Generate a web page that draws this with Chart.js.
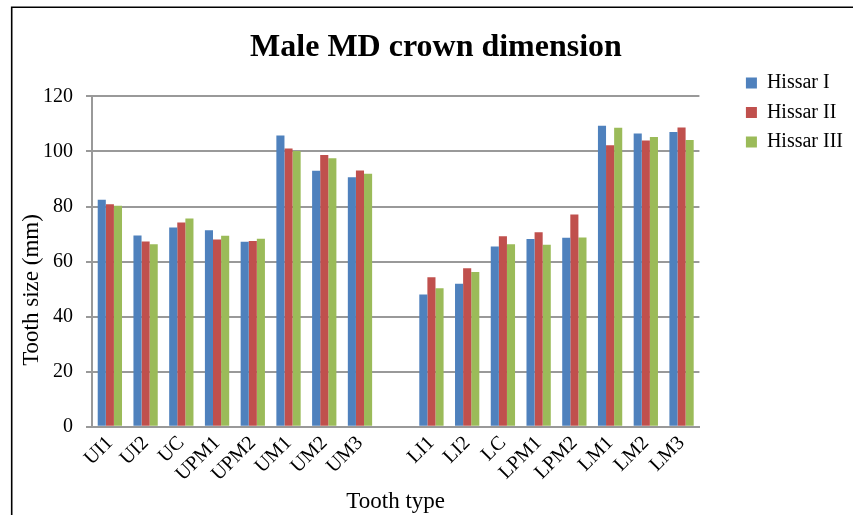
<!DOCTYPE html>
<html>
<head><meta charset="utf-8"><title>Male MD crown dimension</title>
    <script src="https://cdn.jsdelivr.net/npm/chart.js"></script>
    <style> html,body{margin:0;padding:0;background:#fff;} #wrap{width:853px;height:515px;} </style>
</head>
<body>
<div id="wrap"><canvas id="barChart" width="853" height="515"></canvas></div>
<script>
    // categories (blank one = gap between upper and lower teeth)
    const teeth = ['UI1','UI2','UC','UPM1','UPM2','UM1','UM2','UM3','','LI1','LI2','LC','LPM1','LPM2','LM1','LM2','LM3'];
    const hissarI   = [82.5, 69.5, 72.4, 71.4, 67.2, 105.8, 93.0, 90.6, null, 48.1, 52.0, 65.5, 68.2, 68.7, 109.3, 106.5, 107.1];
    const hissarII  = [80.8, 67.3, 74.2, 68.0, 67.5, 101.1, 98.7, 93.1, null, 54.3, 57.6, 69.2, 70.7, 77.1, 102.3, 104.0, 108.7];
    const hissarIII = [80.3, 66.3, 75.7, 69.4, 68.3, 100.2, 97.5, 91.9, null, 50.3, 56.2, 66.3, 66.1, 68.8, 108.6, 105.3, 104.2];
    const yTicks = [0, 20, 40, 60, 80, 100, 120];
    const chartTitle = 'Male MD crown dimension';
    const xTitle = 'Tooth type';
    const yTitle = 'Tooth size (mm)';

    const serif = '"Liberation Serif", "Times New Roman", serif';
    const gridGray = '#999999';

    // frame, background and the (offset) y axis title
    const extras = {
      id: 'extras',
      beforeDraw(chart) {
        const c = chart.ctx;
        c.save();
        c.fillStyle = '#fff';
        c.fillRect(0, 0, chart.width, chart.height);
        c.restore();
      },
      afterDraw(chart) {
        const c = chart.ctx;
        c.save();
        c.strokeStyle = '#000';
        c.lineWidth = 1.6;
        c.beginPath();
        c.moveTo(11.7, chart.height);
        c.lineTo(11.7, 7.2);
        c.lineTo(chart.width, 7.2);
        c.stroke();
        c.translate(32, 290);
        c.rotate(-Math.PI / 2);
        c.fillStyle = '#000';
        c.font = '23px ' + serif;
        c.textAlign = 'center';
        c.textBaseline = 'middle';
        c.fillText(yTitle, 0, 0);
        c.restore();
      }
    };

    new Chart(document.getElementById('barChart'), {
      type: 'bar',
      data: {
        labels: teeth,
        datasets: [
          { label: 'Hissar I',   data: hissarI,   backgroundColor: '#4F81BD' },
          { label: 'Hissar II',  data: hissarII,  backgroundColor: '#C0504D' },
          { label: 'Hissar III', data: hissarIII, backgroundColor: '#9BBB59' }
        ]
      },
      options: {
        responsive: false,
        animation: false,
        layout: { padding: { left: 19, right: 0, top: 0, bottom: 0 } },
        datasets: { bar: { categoryPercentage: 0.68, barPercentage: 1.0 } },
        plugins: {
          title: {
            display: true, text: chartTitle, color: '#000',
            font: { family: serif, size: 32, weight: 'bold' },
            padding: { top: 29, bottom: 29 }
          },
          legend: {
            position: 'right', align: 'start',
            title: { display: true, text: '', font: { size: 10, lineHeight: 1 }, padding: { top: 0, bottom: 53.5 } },
            labels: { boxWidth: 11, boxHeight: 11, padding: 9.5, color: '#000', font: { family: serif, size: 20 } }
          },
          tooltip: { enabled: false }
        },
        scales: {
          x: {
            grid: { display: false },
            border: { display: true, color: gridGray, width: 2 },
            ticks: { color: '#000', font: { family: serif, size: 20, lineHeight: 1 }, minRotation: 45, maxRotation: 45, autoSkip: false, padding: -2 },
            title: { display: true, text: xTitle, color: '#000', font: { family: serif, size: 23, lineHeight: 1 }, padding: { top: 8, bottom: 1.3 } }
          },
          y: {
            min: 0, max: 120,
            afterBuildTicks: s => { s.ticks = yTicks.map(v => ({ value: v })); },
            afterFit: s => { s.width = 73; },
            grid: { color: gridGray, lineWidth: 2, tickLength: 6 },
            border: { display: true, color: gridGray, width: 2 },
            ticks: { color: '#000', font: { family: serif, size: 20 }, padding: 13 }
          },
          gap: {
            position: 'right', display: true,
            grid: { display: false }, border: { display: false }, ticks: { display: false },
            afterFit: s => { s.width = 37; }
          }
        }
      },
      plugins: [extras]
    });
</script>
</body>
</html>
